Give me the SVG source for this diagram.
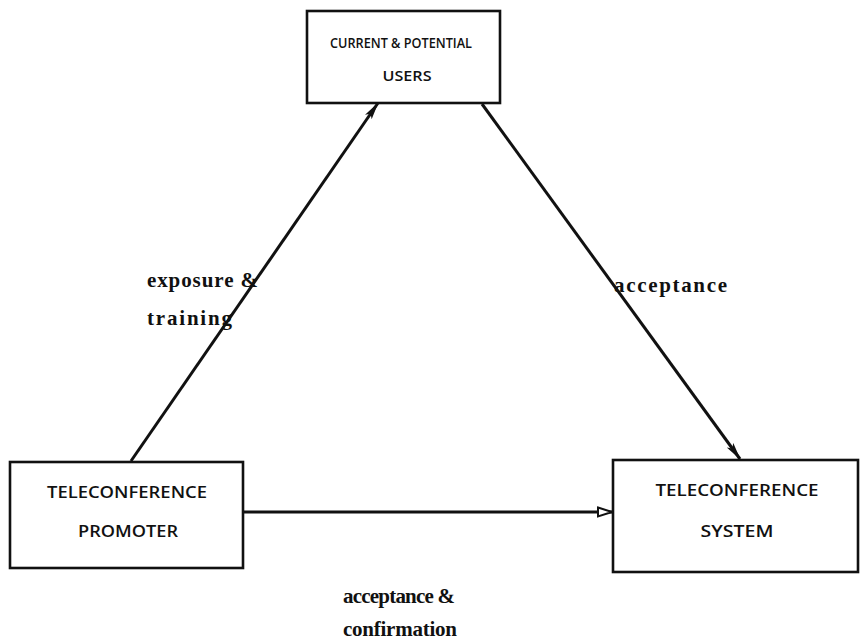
<svg xmlns="http://www.w3.org/2000/svg" width="867" height="640" viewBox="0 0 867 640">
  <style>
    .box { fill: #fff; stroke: #111; stroke-width: 2.6; }
    .btxt { font-family: "Open Sans", "Liberation Sans", sans-serif; font-weight: 600; font-size: 16.5px; fill: #111; text-anchor: middle; }
    .btxt.sm { font-size: 15px; }
    .edge { stroke: #111; stroke-width: 3; fill: none; }
    .lbl { font-family: "Liberation Serif", "DejaVu Serif", serif; font-weight: bold; font-size: 21px; fill: #111; }
  </style>
  <defs>
    <marker id="solid" viewBox="0 0 18 10" refX="17" refY="5" markerWidth="18" markerHeight="10" markerUnits="userSpaceOnUse" orient="auto">
      <path d="M0,1 L18,5 L0,9 L4,5 Z" fill="#111"/>
    </marker>
    <marker id="open" viewBox="0 0 16 12" refX="15" refY="6" markerWidth="16" markerHeight="12" markerUnits="userSpaceOnUse" orient="auto">
      <path d="M1,1.5 L15,6 L1,10.5 Z" fill="#fff" stroke="#111" stroke-width="2"/>
    </marker>
  </defs>
  <rect width="867" height="640" fill="#fff"/>

  <g id="users">
    <rect class="box" x="307" y="11" width="193" height="92"/>
    <text class="btxt sm" x="401" y="48" textLength="142" lengthAdjust="spacingAndGlyphs">CURRENT &amp; POTENTIAL</text>
    <text class="btxt sm" x="407" y="81" textLength="49" lengthAdjust="spacingAndGlyphs">USERS</text>
  </g>

  <g id="promoter">
    <rect class="box" x="10" y="462" width="233" height="106"/>
    <text class="btxt" x="127" y="498" textLength="160" lengthAdjust="spacingAndGlyphs">TELECONFERENCE</text>
    <text class="btxt" x="128" y="537" textLength="100" lengthAdjust="spacingAndGlyphs">PROMOTER</text>
  </g>

  <g id="system">
    <rect class="box" x="613" y="460" width="245" height="112"/>
    <text class="btxt" x="737" y="496" textLength="163" lengthAdjust="spacingAndGlyphs">TELECONFERENCE</text>
    <text class="btxt" x="737" y="537" textLength="73" lengthAdjust="spacingAndGlyphs">SYSTEM</text>
  </g>

  <g id="connectors">
    <line class="edge" x1="131" y1="461" x2="378" y2="103" marker-end="url(#solid)"/>
    <line class="edge" x1="482" y1="104" x2="740" y2="459" marker-end="url(#solid)"/>
    <line class="edge" x1="244" y1="512" x2="612" y2="512" marker-end="url(#open)"/>
    <text class="lbl" x="147" y="287" textLength="111" lengthAdjust="spacing">exposure &amp;</text>
    <text class="lbl" x="147" y="325" textLength="85" lengthAdjust="spacing">training</text>
    <text class="lbl" x="614" y="292" textLength="113" lengthAdjust="spacing">acceptance</text>
    <text class="lbl" x="343" y="603" textLength="112" lengthAdjust="spacing">acceptance &amp;</text>
    <text class="lbl" x="343" y="636" textLength="114" lengthAdjust="spacing">confirmation</text>
  </g>
</svg>
